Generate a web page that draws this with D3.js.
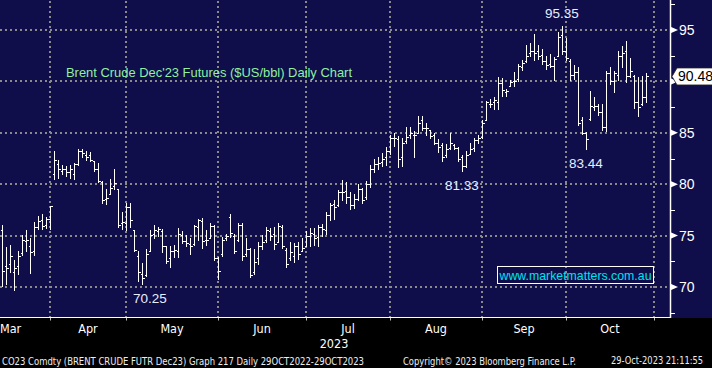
<!DOCTYPE html>
<html>
<head>
<meta charset="utf-8">
<script src="https://cdn.jsdelivr.net/npm/d3@7"></script>
<style>
  html, body { margin: 0; padding: 0; background: #000; }
  svg { display: block; }
</style>
</head>
<body>
<div id="chart"></div>
<script>
'use strict';

// daily bars, 15 Mar 2023 .. 27 Oct 2023 (one entry per trading day)
const opens = [
  75.5, 72.0, 72.2, 71.5, 72.0, 73.3, 74.5, 74.0, 73.5, 75.8, 76.5, 76.0, 76.6,
  81.0, 82.0, 81.3, 81.5, 81.2, 81.0, 82.0, 83.2, 82.8, 82.8, 82.3, 81.5, 80.2, 78.6, 79.0, 79.8, 79.5, 76.2, 76.2,
  77.8, 75.5, 73.0, 71.3, 71.2, 73.5, 75.2, 75.4, 75.4, 74.0, 72.8, 73.5, 73.5, 75.1, 74.5, 74.2, 74.2, 75.8, 76.4, 74.6, 74.8, 75.9, 72.8,
  73.2, 74.8, 76.8, 75.0, 74.6, 76.0, 73.2, 73.7, 71.5, 72.8, 74.0, 74.6, 75.4, 75.2, 74.4, 75.8, 73.6, 72.8, 73.0, 74.0, 73.5, 74.0,
  75.0, 75.2, 74.9, 75.8, 75.5, 77.0, 78.1, 78.0, 79.2, 79.3, 78.8, 78.0, 78.6, 79.5, 78.8, 80.0, 81.5, 82.0, 82.2, 82.6, 83.2,
  84.5, 84.4, 82.6, 84.2, 84.8, 84.8, 85.0, 86.2, 85.5, 85.3, 84.8, 84.0, 83.8, 82.8, 83.5, 83.8, 83.5, 82.6, 81.8, 82.9, 83.5, 84.3, 84.6,
  86.2, 87.8, 88.0, 88.0, 89.8, 89.0, 89.6, 90.0, 90.2, 91.4, 92.0, 92.8, 93.0, 93.0, 92.6, 92.0, 91.7, 91.5, 92.5, 94.5, 93.0,
  92.0, 90.6, 90.9, 86.2, 85.0, 86.3, 87.5, 87.6, 87.0, 85.6, 90.8, 90.0, 90.6, 92.5, 93.0, 90.5, 90.5, 88.0, 87.8, 88.5
];
const highs = [
  76.0, 73.9, 74.1, 72.6, 73.5, 75.1, 75.5, 74.8, 76.3, 76.9, 77.1, 76.8, 77.9,
  83.2, 82.4, 81.9, 81.8, 81.9, 82.1, 83.4, 83.4, 83.2, 83.1, 82.3, 82.1, 80.3, 79.5, 80.5, 81.5, 79.5, 77.3, 78.2,
  78.2, 75.5, 73.5, 72.3, 73.7, 75.5, 76.0, 75.8, 75.6, 74.0, 74.0, 74.1, 75.7, 75.4, 75.1, 74.75, 76.0, 76.6, 76.7, 75.5, 76.2, 76.0, 72.9,
  74.9, 75.2, 77.1, 75.2, 76.2, 76.2, 74.75, 73.8, 73.7, 74.4, 75.1, 75.8, 75.7, 75.8, 76.2, 76.0, 73.8, 74.4, 74.3, 74.4, 74.75, 75.4,
  75.7, 75.7, 76.0, 76.1, 77.3, 78.2, 78.5, 79.4, 80.4, 80.2, 79.2, 79.0, 80.0, 79.6, 80.3, 81.9, 82.5, 82.6, 83.0, 83.6, 84.8,
  85.0, 84.7, 84.5, 85.6, 85.6, 85.2, 86.6, 86.6, 86.0, 85.3, 85.0, 84.4, 84.0, 83.9, 85.0, 83.9, 83.6, 82.8, 83.2, 84.0, 84.5, 84.8, 86.2,
  88.1, 88.3, 88.5, 90.4, 90.3, 89.3, 90.1, 90.9, 91.7, 92.1, 93.5, 93.7, 94.6, 93.5, 93.2, 92.5, 92.7, 92.4, 94.8, 95.35, 94.2,
  92.2, 91.6, 91.4, 86.5, 85.1, 89.1, 88.5, 87.8, 87.8, 91.0, 91.4, 91.0, 93.0, 93.4, 93.9, 92.3, 90.6, 90.4, 90.5, 90.8
];
const lows = [
  70.1, 70.3, 71.5, 69.7, 71.3, 73.1, 73.5, 71.4, 73.1, 75.6, 75.6, 75.7, 75.6,
  80.5, 80.6, 81.0, 80.8, 80.6, 80.5, 81.9, 82.6, 82.4, 82.3, 81.3, 80.2, 78.2, 78.1, 79.0, 79.5, 75.8, 75.6, 75.5,
  75.8, 73.5, 70.6, 70.25, 71.1, 73.5, 74.8, 75.0, 73.4, 72.3, 71.9, 72.9, 72.9, 74.3, 74.0, 73.2, 74.1, 74.6, 73.8, 74.1, 74.75, 72.6, 70.8,
  73.0, 74.6, 74.9, 73.3, 74.5, 72.6, 73.0, 71.0, 71.3, 72.25, 73.7, 74.4, 74.6, 73.7, 74.4, 73.8, 71.9, 72.6, 72.4, 72.7, 73.5, 74.0,
  74.0, 74.1, 74.0, 75.0, 75.2, 76.5, 76.6, 77.9, 78.5, 78.2, 77.6, 77.7, 78.5, 78.2, 78.6, 79.7, 81.2, 81.5, 81.8, 81.9, 82.9,
  83.7, 81.7, 81.8, 84.0, 84.5, 82.6, 85.0, 85.3, 84.8, 84.5, 83.9, 83.1, 82.3, 82.6, 83.4, 83.4, 82.3, 81.33, 81.7, 82.9, 83.2, 84.0, 84.5,
  86.2, 87.5, 87.3, 87.3, 88.6, 88.6, 89.6, 89.6, 90.0, 91.1, 91.9, 92.5, 92.1, 92.2, 91.7, 91.2, 91.4, 90.1, 92.5, 92.7, 92.1,
  90.1, 90.2, 85.8, 84.9, 83.44, 86.2, 87.2, 86.7, 85.3, 85.2, 89.7, 89.0, 90.1, 91.4, 89.9, 90.4, 87.4, 86.6, 87.7, 88.0
];
const closes = [
  71.6, 71.8, 73.0, 71.8, 73.0, 74.6, 74.6, 73.4, 75.8, 76.4, 75.9, 76.6, 77.9,
  82.4, 81.5, 81.5, 81.2, 81.5, 82.0, 83.2, 83.0, 82.6, 82.4, 81.5, 80.3, 78.5, 78.7, 79.6, 80.1, 76.0, 76.3, 77.8,
  76.5, 73.6, 71.5, 70.9, 73.2, 75.1, 75.5, 75.6, 74.0, 72.5, 73.5, 73.6, 75.2, 74.5, 74.3, 74.0, 75.9, 76.5, 74.5, 74.6, 75.9, 72.8, 71.6,
  74.6, 75.0, 75.3, 73.5, 76.0, 73.0, 73.7, 71.2, 72.4, 74.0, 74.4, 75.5, 75.0, 74.2, 75.9, 74.0, 72.2, 73.4, 74.0, 73.2, 73.8, 75.0,
  75.3, 74.8, 75.8, 75.6, 77.0, 78.0, 77.8, 79.2, 79.2, 78.8, 78.0, 78.6, 79.5, 78.5, 80.0, 81.5, 82.0, 82.1, 82.5, 83.2, 84.5,
  84.5, 82.5, 84.0, 84.6, 85.0, 84.8, 86.0, 85.5, 85.5, 84.7, 84.0, 83.6, 82.6, 83.4, 84.0, 83.5, 82.5, 81.8, 82.8, 83.4, 84.3, 84.5, 86.0,
  88.0, 87.8, 88.2, 89.8, 89.2, 89.1, 89.9, 90.0, 91.5, 91.8, 92.5, 93.0, 92.8, 92.5, 92.0, 91.6, 91.5, 92.2, 94.3, 93.0, 92.3,
  90.6, 90.9, 86.0, 85.0, 84.4, 87.6, 87.6, 87.0, 85.6, 90.8, 90.0, 90.8, 92.5, 92.8, 90.5, 91.0, 88.0, 87.5, 88.5, 90.48
];

const monthLabels = ['Mar', 'Apr', 'May', 'Jun', 'Jul', 'Aug', 'Sep', 'Oct'];
// bar index of the last trading day of each month (Oct end lies past the data)
const monthEnds = [12, 31, 54, 76, 97, 120, 141, 163];
const priceTicks = [70, 75, 80, 85, 90, 95];
const minorTicks = [67.5, 72.5, 77.5, 82.5, 87.5, 92.5, 97.5];
// marked extremes: bar index, value, placement
const markBars = [140, 146, 115, 35];
const markValues = [95.35, 83.44, 81.33, 70.25];
const markSides = ['above', 'below', 'below', 'below'];

const W = 712, H = 368;
const plotRight = 670, plotBottom = 318;

const bars = d3.range(closes.length).map(i => ({
  i, o: opens[i], h: highs[i], l: lows[i], c: closes[i]
}));
const last = closes[closes.length - 1];

const x = d3.scaleLinear().domain([0, 161]).range([2, 646]);
const y = d3.scaleLinear().domain([70, 95]).range([287, 30]);

const svg = d3.select('#chart').append('svg')
  .attr('width', W).attr('height', H)
  .style('font-family', '"Liberation Sans", Arial, sans-serif');

svg.append('rect').attr('width', W).attr('height', H).attr('fill', '#000');
svg.append('rect').attr('width', W).attr('height', plotBottom).attr('fill', '#0f0d4a');

// dotted grid
const grid = svg.append('g')
  .attr('stroke', '#8a8a8a').attr('stroke-width', 2).attr('stroke-dasharray', '2,3');
grid.selectAll('line.h').data(priceTicks).join('line')
  .attr('class', 'h')
  .attr('x1', 0).attr('x2', plotRight)
  .attr('y1', d => Math.round(y(d))).attr('y2', d => Math.round(y(d)));
grid.selectAll('line.v').data(monthEnds).join('line')
  .attr('class', 'v')
  .attr('x1', d => Math.round(x(d))).attr('x2', d => Math.round(x(d)))
  .attr('y1', 1).attr('y2', plotBottom);

// title
svg.append('text')
  .attr('x', 66).attr('y', 77)
  .attr('font-size', 13.5).attr('fill', '#8ff0a0')
  .attr('textLength', 286).attr('lengthAdjust', 'spacingAndGlyphs')
  .text("Brent Crude Dec'23 Futures ($US/bbl) Daily Chart");

// OHLC bars
const ohlc = svg.append('g')
  .attr('stroke', '#fff').attr('stroke-width', 1).attr('shape-rendering', 'crispEdges');
const px = d => Math.round(x(d.i)) + 0.5;
ohlc.selectAll('line.hl').data(bars).join('line')
  .attr('class', 'hl')
  .attr('x1', px).attr('x2', px)
  .attr('y1', d => Math.round(y(d.h))).attr('y2', d => Math.round(y(d.l)) + 1);
ohlc.selectAll('line.o').data(bars).join('line')
  .attr('class', 'o')
  .attr('x1', d => px(d) - 2).attr('x2', px)
  .attr('y1', d => Math.round(y(d.o)) + 0.5).attr('y2', d => Math.round(y(d.o)) + 0.5);
ohlc.selectAll('line.c').data(bars).join('line')
  .attr('class', 'c')
  .attr('x1', px).attr('x2', d => px(d) + 2)
  .attr('y1', d => Math.round(y(d.c)) + 0.5).attr('y2', d => Math.round(y(d.c)) + 0.5);

// high / low labels
svg.append('g').selectAll('text').data(markBars).join('text')
  .attr('x', (d, k) => x(d) + (markValues[k] === 70.25 ? 8 : 0))
  .attr('y', (d, k) => markSides[k] === 'above' ? y(markValues[k]) - 8 : y(markValues[k]) + 19)
  .attr('text-anchor', 'middle')
  .attr('font-size', 13.5).attr('fill', '#e6eeff')
  .text((d, k) => markValues[k].toFixed(2));

// watermark
svg.append('rect')
  .attr('x', 497.5).attr('y', 266.5).attr('width', 156).attr('height', 17)
  .attr('fill', 'none').attr('stroke', '#fff').attr('stroke-width', 1);
svg.append('text')
  .attr('x', 575.5).attr('y', 280)
  .attr('text-anchor', 'middle').attr('font-size', 13).attr('fill', '#00e2f0')
  .attr('textLength', 152).attr('lengthAdjust', 'spacingAndGlyphs')
  .text('www.marketmatters.com.au');

// right price axis (the 90 label sits under the last-price callout, as in Bloomberg)
const yAxis = d3.axisRight(y)
  .tickValues(priceTicks.filter(v => Math.abs(y(v) - y(last)) > 12))
  .tickSize(0).tickPadding(9);
const gy = svg.append('g').attr('transform', `translate(${plotRight},0)`).call(yAxis);
gy.select('.domain').remove();
gy.selectAll('text').attr('fill', '#fff').attr('font-size', 14)
  .attr('font-family', '"Liberation Sans", Arial, sans-serif');
svg.append('line')
  .attr('x1', plotRight + 0.5).attr('x2', plotRight + 0.5).attr('y1', 0).attr('y2', plotBottom)
  .attr('stroke', '#fff').attr('stroke-width', 1.5);
svg.append('g').selectAll('path').data(priceTicks).join('path')
  .attr('d', d => `M${plotRight},${y(d) - 3.5}L${plotRight + 8},${y(d)}L${plotRight},${y(d) + 3.5}Z`)
  .attr('fill', '#fff');
svg.append('g').selectAll('line').data(minorTicks).join('line')
  .attr('x1', plotRight).attr('x2', plotRight + 5)
  .attr('y1', d => Math.round(y(d)) + 0.5).attr('y2', d => Math.round(y(d)) + 0.5)
  .attr('stroke', '#fff').attr('stroke-width', 1);

// last price callout
const ly = y(last);
svg.append('path')
  .attr('d', `M${plotRight + 2},${ly}L${plotRight + 7},${ly - 8.5}L${W + 2},${ly - 8.5}L${W + 2},${ly + 8.5}L${plotRight + 7},${ly + 8.5}Z`)
  .attr('fill', '#fff').attr('stroke', '#222').attr('stroke-width', 0.8);
svg.append('text')
  .attr('x', plotRight + 8).attr('y', ly + 5)
  .attr('font-size', 14).attr('fill', '#000')
  .text(last.toFixed(2));

// bottom time axis
const xAxis = d3.axisBottom(x).tickValues(monthEnds).tickSize(3).tickFormat('');
const gx = svg.append('g').attr('transform', `translate(0,${plotBottom - 0.5})`).call(xAxis);
gx.select('.domain').remove();
gx.selectAll('line').attr('stroke', '#bbb');
svg.append('line')
  .attr('x1', 0).attr('x2', plotRight).attr('y1', plotBottom - 0.5).attr('y2', plotBottom - 0.5)
  .attr('stroke', '#fff').attr('stroke-width', 1.2);

const monthFont = '"DejaVu Sans Condensed", "DejaVu Sans", sans-serif';
svg.append('g').selectAll('text').data(monthLabels).join('text')
  .attr('x', (d, k) => k === 0 ? 0 : (x(monthEnds[k - 1]) + x(monthEnds[k])) / 2)
  .attr('y', 333)
  .attr('text-anchor', (d, k) => k === 0 ? 'start' : 'middle')
  .attr('font-family', monthFont).attr('font-size', 12.5).attr('fill', '#fff')
  .text(d => d);
svg.append('text')
  .attr('x', 334).attr('y', 348).attr('text-anchor', 'middle')
  .attr('font-family', monthFont).attr('font-size', 12.5).attr('fill', '#fff')
  .text('2023');

// footer
const footer = svg.append('g')
  .attr('font-family', monthFont).attr('font-size', 10).attr('fill', '#eee');
footer.append('text').attr('x', 2).attr('y', 365)
  .attr('textLength', 362).attr('lengthAdjust', 'spacingAndGlyphs')
  .text('CO23 Comdty (BRENT CRUDE FUTR  Dec23) Graph 217  Daily 29OCT2022-29OCT2023');
footer.append('text').attr('x', 403).attr('y', 365)
  .attr('textLength', 173).attr('lengthAdjust', 'spacingAndGlyphs')
  .text('Copyright\u00a9 2023 Bloomberg Finance L.P.');
footer.append('text').attr('x', 611).attr('y', 364)
  .attr('textLength', 92).attr('lengthAdjust', 'spacingAndGlyphs')
  .text('29-Oct-2023 21:11:55');
</script>
</body>
</html>
